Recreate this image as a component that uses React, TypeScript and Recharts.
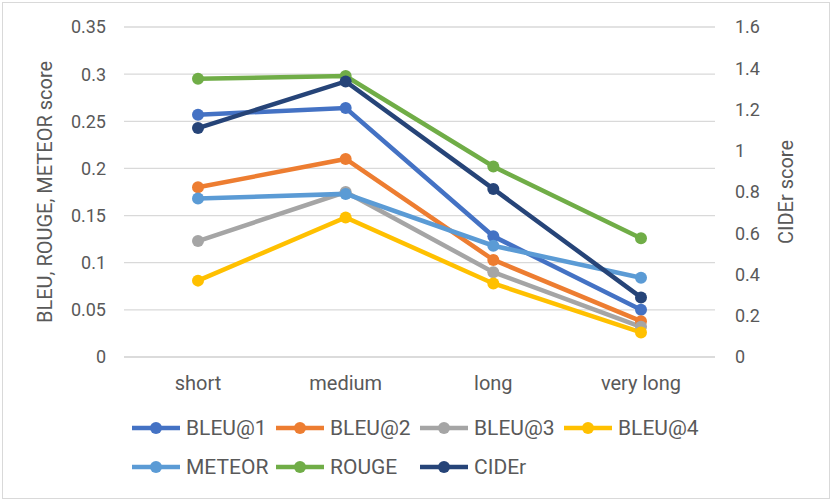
import React from "react";
import { LineChart, Line, XAxis, YAxis, CartesianGrid, Legend } from "recharts";

const categories = ["short", "medium", "long", "very long"];

const bleu1 = [0.257, 0.264, 0.128, 0.05];
const bleu2 = [0.18, 0.21, 0.103, 0.038];
const bleu3 = [0.123, 0.175, 0.09, 0.032];
const bleu4 = [0.081, 0.148, 0.078, 0.026];
const meteor = [0.168, 0.173, 0.118, 0.084];
const rouge = [0.295, 0.298, 0.202, 0.126];
const cider = [1.11, 1.336, 0.815, 0.289];

const leftTicks = [0, 0.05, 0.1, 0.15, 0.2, 0.25, 0.3, 0.35];
const rightTicks = [0, 0.2, 0.4, 0.6, 0.8, 1, 1.2, 1.4, 1.6];

const series = [
  { key: "bleu1", name: "BLEU@1", values: bleu1, color: "#4472C4", axis: "left" },
  { key: "bleu2", name: "BLEU@2", values: bleu2, color: "#ED7D31", axis: "left" },
  { key: "bleu3", name: "BLEU@3", values: bleu3, color: "#A5A5A5", axis: "left" },
  { key: "bleu4", name: "BLEU@4", values: bleu4, color: "#FFC000", axis: "left" },
  { key: "meteor", name: "METEOR", values: meteor, color: "#5B9BD5", axis: "left" },
  { key: "rouge", name: "ROUGE", values: rouge, color: "#70AD47", axis: "left" },
  { key: "cider", name: "CIDEr", values: cider, color: "#264478", axis: "right" },
];

const data = categories.map((c, i) => {
  const row: Record<string, string | number> = { category: c };
  series.forEach((s) => (row[s.key] = s.values[i]));
  return row;
});

const FONT = "Roboto, 'Noto Sans', sans-serif";
const TEXT = "#595959";

function AxisTitle({ viewBox, value, x }: any) {
  const cy = viewBox.y + viewBox.height / 2;
  return (
    <text
      x={x}
      y={cy}
      transform={`rotate(-90, ${x}, ${cy})`}
      textAnchor="middle"
      dominantBaseline="central"
      fill={TEXT}
      fontSize={20}
      fontFamily={FONT}
    >
      {value}
    </text>
  );
}

// keep the legend in series order (recharts sorts the payload otherwise)
function LegendContent() {
  return (
    <div style={{ height: 80, paddingLeft: 132, display: "grid", gridTemplateColumns: "repeat(4, 144px)", gridAutoRows: 39, alignContent: "start", paddingTop: 1 }}>
      {series.map((s) => (
        <div key={s.key} style={{ display: "flex", alignItems: "center", height: 39 }}>
          <svg width={48} height={14} style={{ flex: "none" }}>
            <line x1={0} y1={7} x2={48} y2={7} stroke={s.color} strokeWidth={4.5} />
            <circle cx={24} cy={7} r={6} fill={s.color} />
          </svg>
          <span style={{ marginLeft: 6, fontFamily: FONT, fontSize: 21, color: TEXT, whiteSpace: "nowrap" }}>{s.name}</span>
        </div>
      ))}
    </div>
  );
}

export default function App() {
  return (
    <div style={{ position: "relative", width: 831, height: 502, background: "#fff" }}>
      <style>{`body{margin:0}`}</style>
      <LineChart width={831} height={502} data={data} margin={{ top: 27, right: 0, left: 0, bottom: 14 }}>
        <CartesianGrid yAxisId="left" vertical={false} stroke="#D9D9D9" strokeWidth={1.3} />
        <XAxis
          dataKey="category"
          height={50}
          padding={{ left: 74, right: 74 }}
          tickLine={false}
          axisLine={{ stroke: "#D9D9D9", strokeWidth: 1.3 }}
          tickMargin={13}
          tick={{ fill: TEXT, fontSize: 20, fontFamily: FONT }}
        />
        <YAxis
          yAxisId="left"
          width={124}
          domain={[0, 0.35]}
          ticks={leftTicks}
          interval={0}
          tickLine={false}
          axisLine={false}
          tickMargin={12}
          tick={{ fill: TEXT, fontSize: 18, fontFamily: FONT }}
          label={(props: any) => <AxisTitle {...props} value="BLEU, ROUGE, METEOR score" x={45} />}
        />
        <YAxis
          yAxisId="right"
          orientation="right"
          width={116}
          domain={[0, 1.6]}
          ticks={rightTicks}
          interval={0}
          tickLine={false}
          axisLine={false}
          tickMargin={14}
          tick={{ fill: TEXT, fontSize: 18, fontFamily: FONT, textAnchor: "start" }}
          label={(props: any) => <AxisTitle {...props} value="CIDEr score" x={786} />}
        />
        <Legend verticalAlign="bottom" content={<LegendContent />} />
        {series.map((s) => (
          <Line
            key={s.key}
            yAxisId={s.axis}
            dataKey={s.key}
            name={s.name}
            stroke={s.color}
            strokeWidth={4.5}
            dot={{ r: 6, fill: s.color, stroke: s.color, strokeWidth: 0 }}
            activeDot={false}
            isAnimationActive={false}
          />
        ))}
      </LineChart>
      <div style={{ position: "absolute", left: 2, top: 2, width: 826, height: 495, border: "1px solid #D9D9D9", pointerEvents: "none" }} />
    </div>
  );
}
